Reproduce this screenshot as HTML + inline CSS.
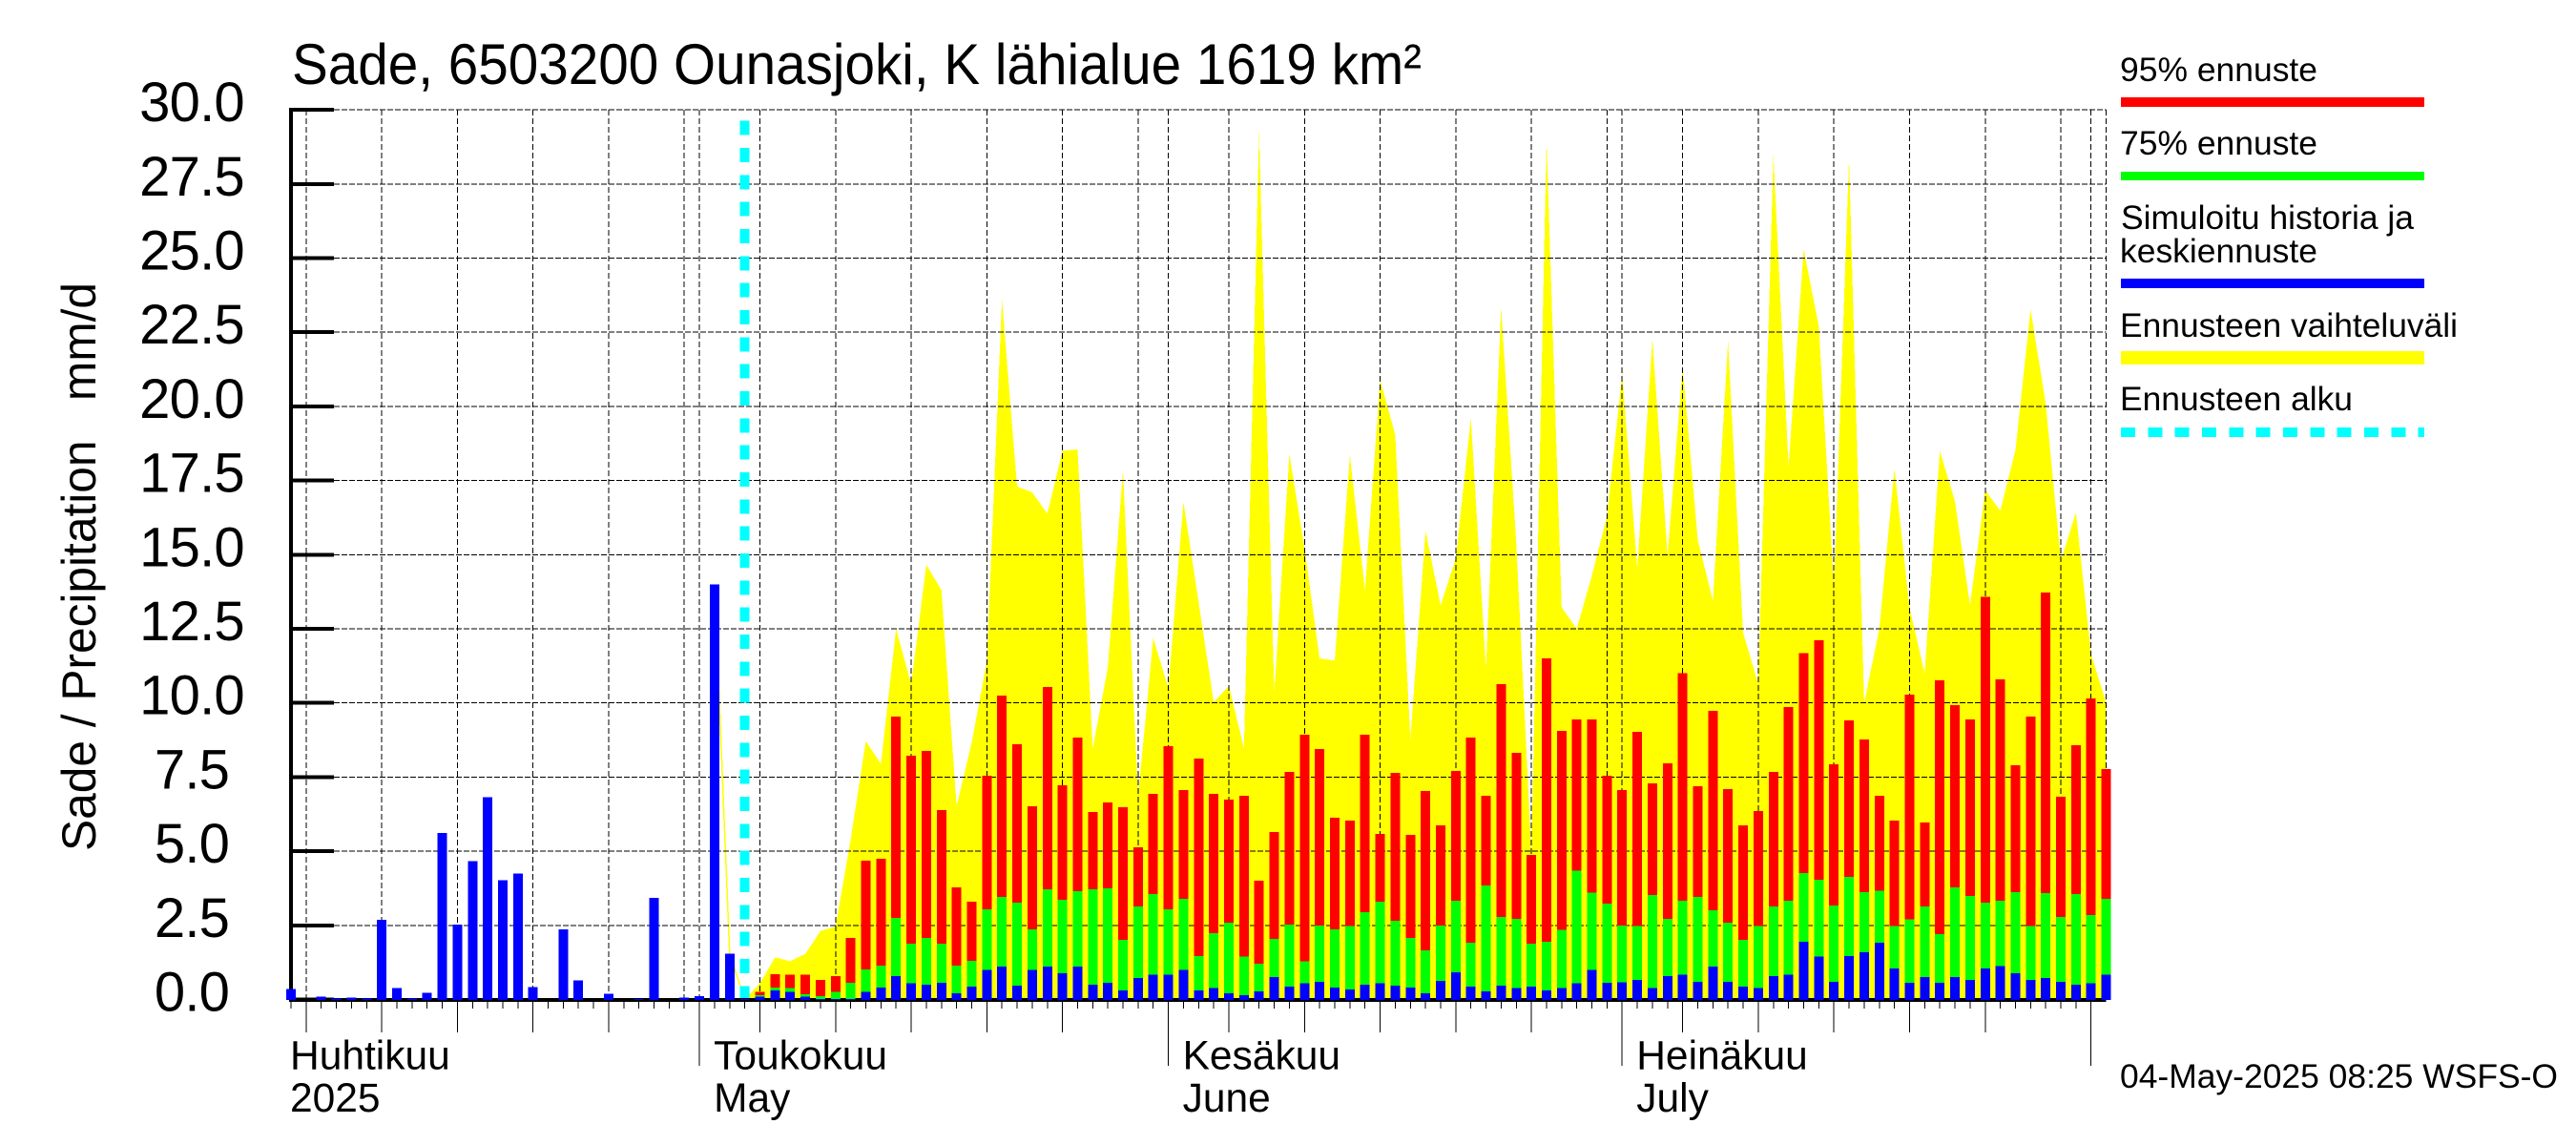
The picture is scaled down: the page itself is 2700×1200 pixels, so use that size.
<!DOCTYPE html>
<html lang="fi">
<head>
<meta charset="utf-8">
<title>Sade, 6503200 Ounasjoki</title>
<style>
html,body{margin:0;padding:0;background:#fff;}
svg{display:block;font-family:"Liberation Sans",sans-serif;fill:#000;}
.crisp{shape-rendering:crispEdges;}
</style>
</head>
<body>
<svg id="chart" xmlns="http://www.w3.org/2000/svg" width="2700" height="1200" viewBox="0 0 2700 1200">
  <rect x="0" y="0" width="2700" height="1200" fill="#ffffff"/>
  <g id="envelope-layer" class="crisp"></g>
  <g id="grid-layer" class="crisp"></g>
  <g id="start-layer" class="crisp"></g>
  <g id="axis-layer" class="crisp"></g>
  <g id="bar-layer" class="crisp"></g>
  <g id="label-layer"></g>

  <text x="306" y="88" font-size="60" textLength="1184" lengthAdjust="spacingAndGlyphs">Sade, 6503200 Ounasjoki, K lähialue 1619 km²</text>
  <text transform="translate(100,892) rotate(-90)" font-size="50" textLength="596" lengthAdjust="spacingAndGlyphs" style="white-space:pre">Sade / Precipitation   mm/d</text>

  <g>
    <text x="2222" y="85" font-size="35.5" textLength="207" lengthAdjust="spacingAndGlyphs">95% ennuste</text>
    <rect class="crisp" x="2223" y="102" width="318" height="10" fill="#ff0000"/>
    <text x="2222" y="162" font-size="35.5" textLength="207" lengthAdjust="spacingAndGlyphs">75% ennuste</text>
    <rect class="crisp" x="2223" y="180" width="318" height="9" fill="#00ff00"/>
    <text x="2223" y="240" font-size="35.5" textLength="307" lengthAdjust="spacingAndGlyphs">Simuloitu historia ja</text>
    <text x="2222" y="275" font-size="35.5" textLength="207" lengthAdjust="spacingAndGlyphs">keskiennuste</text>
    <rect class="crisp" x="2223" y="292" width="318" height="10" fill="#0000ff"/>
    <text x="2222" y="353" font-size="35.5" textLength="354" lengthAdjust="spacingAndGlyphs">Ennusteen vaihteluväli</text>
    <rect class="crisp" x="2223" y="368" width="318" height="14" fill="#ffff00"/>
    <text x="2222" y="430" font-size="35.5" textLength="244" lengthAdjust="spacingAndGlyphs">Ennusteen alku</text>
    <line class="crisp" x1="2223" y1="453" x2="2541" y2="453" stroke="#00ffff" stroke-width="10" stroke-dasharray="15 13.33"/>
  </g>

  <text x="2222" y="1140" font-size="35" textLength="459" lengthAdjust="spacingAndGlyphs">04-May-2025 08:25 WSFS-O</text>
</svg>

<script>
// ---- Chart data (mm/d) ----
const axisStartDate = [2025, 3, 4];   // 4 April 2025, day index 0
const dayCount = 121;
const forecastStartDay = 30;

const yTickLabels = ["0.0","2.5","5.0","7.5","10.0","12.5","15.0","17.5","20.0","22.5","25.0","27.5","30.0"];
const yMax = 30;

const monthLabelDays = [0, 27, 58, 88];
const monthLabelsFi = ["Huhtikuu","Toukokuu","Kesäkuu","Heinäkuu"];
const monthLabelsEn = ["2025","May","June","July"];

// Simulated history and mean forecast, day 0..120
const meanValues = [
  .35,0,.1,.03,.06,.03,2.68,.38,.03,.22,
  5.62,2.53,4.66,6.82,4.02,4.25,.42,0,2.37,.64,
  0,.2,0,.02,3.43,0,.06,.12,14,1.54,.02,
  .09,.31,.25,.09,.02,.02,.02,.25,.41,.79,
  .54,.5,.57,.21,.44,.99,1.11,.47,.99,1.11,
  .89,1.11,.5,.57,.31,.73,.83,.83,.99,.31,
  .38,.21,.15,.28,.76,.44,.54,.6,.41,.34,
  .5,.54,.47,.41,.21,.63,.92,.44,.28,.47,
  .38,.44,.31,.38,.55,.99,.57,.58,.66,.38,
  .79,.83,.6,1.11,.6,.44,.38,.79,.83,1.95,
  1.44,.6,1.47,1.6,1.92,1.05,.57,.76,.57,.76,
  .66,1.05,1.13,.89,.66,.73,.6,.5,.54,.83
];

// 95 % forecast, day 31..120
const p95Values = [
  .25,.86,.83,.83,.66,.79,2.08,4.68,4.75,9.54,
  8.22,8.38,6.39,3.78,3.3,7.55,10.25,8.61,6.52,10.54,
  7.22,8.83,6.32,6.65,6.48,5.13,6.93,8.54,7.06,8.12,
  6.93,6.74,6.87,4.01,5.65,7.67,8.93,8.45,6.13,6.03,
  8.93,5.58,7.64,5.55,7.03,5.87,7.71,8.83,6.87,10.63,
  8.32,4.88,11.5,9.06,9.45,9.45,7.55,7.06,9.02,7.29,
  7.96,11,7.19,9.73,7.1,5.87,6.36,7.67,9.86,11.68,
  12.12,7.93,9.41,8.77,6.87,6.03,10.28,5.97,10.76,9.92,
  9.44,13.57,10.8,7.9,9.54,13.73,6.84,8.57,10.15,7.77
];

// 75 % forecast, day 31..120
const p75Values = [
  .15,.41,.38,.18,.12,.25,.57,1.02,1.15,2.75,
  1.89,2.08,1.89,1.15,1.31,3.04,3.46,3.27,2.37,3.72,
  3.37,3.65,3.72,3.75,2.01,3.14,3.56,3.04,3.4,1.47,
  2.24,2.59,1.44,1.21,2.05,2.53,1.28,2.5,2.37,2.47,
  2.95,3.3,2.66,2.08,1.66,2.5,3.33,1.92,3.85,2.79,
  2.72,1.89,1.95,2.35,4.34,3.6,3.24,2.5,2.47,3.53,
  2.72,3.33,3.46,3.01,2.59,2.01,2.47,3.14,3.33,4.27,
  4.04,3.17,4.14,3.62,3.66,2.47,2.7,3.14,2.21,3.78,
  3.49,3.27,3.33,3.62,2.47,3.59,2.79,3.56,2.85,3.4
];

// Upper limit of the forecast range, day 31..120
const rangeValues = [
  .55,1.42,1.29,1.54,2.31,2.46,5.4,8.71,7.95,12.5,
  10.64,14.66,13.8,6.52,8.66,11.4,23.6,17.3,17.1,16.38,
  18.5,18.55,8.46,11.2,17.84,6.84,12.19,10.5,16.77,13.4,
  10.03,10.57,8.48,29.27,10.35,18.39,15.23,11.5,11.43,18.35,
  13.8,20.9,19.04,8.77,15.8,13.29,14.87,19.6,11.14,23.34,
  15.4,4.9,28.97,13.22,12.5,14.3,16.3,21.1,14.54,22.27,
  14.97,21.33,15.5,13.44,22.2,12.36,10.64,28.48,17.96,25.3,
  22.7,13.9,28.37,10,12.5,17.9,13.2,11,18.5,16.8,
  13.3,17.17,16.48,18.53,23.27,20.1,14.8,16.42,11.64,10
];

// Lead-in line from the last observed days to the forecast start, day 28..30
const leadInValues = [14, 1.54, 0];

// ---- Axis functions ----
const SVG_NS = "http://www.w3.org/2000/svg";
const plotLeft = 305, dayWidth = 15.855, plotBottom = 1047.5, unitHeight = 31.08;
function xScale(day) { return plotLeft + dayWidth * day; }
function yScale(value) { return plotBottom - unitHeight * value; }
function dayOfMonth(day) {
  return new Date(Date.UTC(axisStartDate[0], axisStartDate[1], axisStartDate[2] + day)).getUTCDate();
}
function makeEl(tag, parent, attrs) {
  const el = document.createElementNS(SVG_NS, tag);
  for (const k in attrs) el.setAttribute(k, attrs[k]);
  parent.appendChild(el);
  return el;
}

const plotRight = xScale(dayCount - 1);
const plotTop = yScale(yMax);
const tickEnd = 350;
const envelopeLayer = document.getElementById("envelope-layer");
const gridLayer = document.getElementById("grid-layer");
const startLayer = document.getElementById("start-layer");
const barLayer = document.getElementById("bar-layer");
const axisLayer = document.getElementById("axis-layer");
const labelLayer = document.getElementById("label-layer");

// Forecast range polygon
(function drawRange() {
  const firstDay = dayCount - rangeValues.length;
  let pts = xScale(forecastStartDay) + "," + yScale(0);
  rangeValues.forEach(function (v, k) {
    pts += " " + xScale(firstDay + k) + "," + yScale(v);
  });
  pts += " " + xScale(dayCount - 1) + "," + yScale(0);
  const poly = makeEl("polygon", envelopeLayer, { points: pts, fill: "#ffff00" });
  
  

  const leadPts = leadInValues.map(function (v, k) {
    return xScale(forecastStartDay - leadInValues.length + 1 + k) + "," + yScale(v);
  }).join(" ");
  const lead = makeEl("polyline", envelopeLayer, { points: leadPts, fill: "none", stroke: "#ffff00", "stroke-width": 1.5 });
  
  
})();

// Grid
yTickLabels.forEach(function (label) {
  const y = yScale(parseFloat(label));
  const line = makeEl("line", gridLayer, { x1: tickEnd, x2: plotRight, y1: y, y2: y, stroke: "#000", "stroke-width": 1, "stroke-dasharray": "6 2" });
  
  
});
for (let d = 0; d < dayCount; d++) {
  const dom = dayOfMonth(d);
  if (dom === 1 || dom % 5 === 0 || d === dayCount - 1) {
    const x = xScale(d);
    const line = makeEl("line", gridLayer, { x1: x, x2: x, y1: plotTop, y2: plotBottom, stroke: "#000", "stroke-width": 1, "stroke-dasharray": "6 3" });
    
    
  }
}

// Forecast start marker
const startLine = makeEl("line", startLayer, {
  x1: xScale(forecastStartDay), x2: xScale(forecastStartDay), y1: 126.7, y2: plotBottom,
  stroke: "#00ffff", "stroke-width": 10, "stroke-dasharray": "15 13.33"
});



// Axes (bars are painted over them)
const yAxisLine = makeEl("rect", axisLayer, { x: plotLeft - 2, y: plotTop - 2, width: 4, height: plotBottom - plotTop + 4, fill: "#000" });


const xAxisLine = makeEl("rect", axisLayer, { x: plotLeft - 2, y: plotBottom - 1.5, width: plotRight - plotLeft + 2, height: 4, fill: "#000" });



yTickLabels.forEach(function (label) {
  const y = yScale(parseFloat(label));
  const tick = makeEl("rect", axisLayer, { x: plotLeft, y: y - 2, width: tickEnd - plotLeft, height: 4, fill: "#000" });
  
  
  const t = makeEl("text", labelLayer, { x: 201, y: y + 12, "font-size": 58, "text-anchor": "middle", "letter-spacing": "-0.8" });
  t.textContent = label;
  
  
});

for (let d = 0; d < dayCount - 1; d++) {
  const dom = dayOfMonth(d);
  const bottom = dom === 1 ? 1117 : (dom % 5 === 0 && dom !== 30 ? 1082 : 1057);
  const x = xScale(d);
  const tick = makeEl("line", axisLayer, { x1: x, x2: x, y1: plotBottom, y2: bottom, stroke: "#000", "stroke-width": 1 });
  
  
}

// Bars
function drawBar(day, value, color, name) {
  if (!(value > 0)) return;
  const top = yScale(value);
  const r = makeEl("rect", barLayer, { x: xScale(day) - 5, y: top, width: 10, height: plotBottom - top + 0.5, fill: color });
  
  
}
const forecastFirstDay = dayCount - p95Values.length;
p95Values.forEach(function (v, k) { drawBar(forecastFirstDay + k, v, "#ff0000", "bar-95-percent"); });
p75Values.forEach(function (v, k) { drawBar(forecastFirstDay + k, v, "#00ff00", "bar-75-percent"); });
meanValues.forEach(function (v, d) { drawBar(d, v, "#0000ff", "bar-mean"); });

monthLabelDays.forEach(function (d, k) {
  const x = d === 0 ? xScale(d) - 1 : xScale(d) + 15;
  const a = makeEl("text", labelLayer, { x: x, y: 1120.5, "font-size": 42.5 });
  a.textContent = monthLabelsFi[k];
  
  
  const b = makeEl("text", labelLayer, { x: x, y: 1165, "font-size": 42.5 });
  b.textContent = monthLabelsEn[k];
  
  
});
</script>
</body>
</html>
